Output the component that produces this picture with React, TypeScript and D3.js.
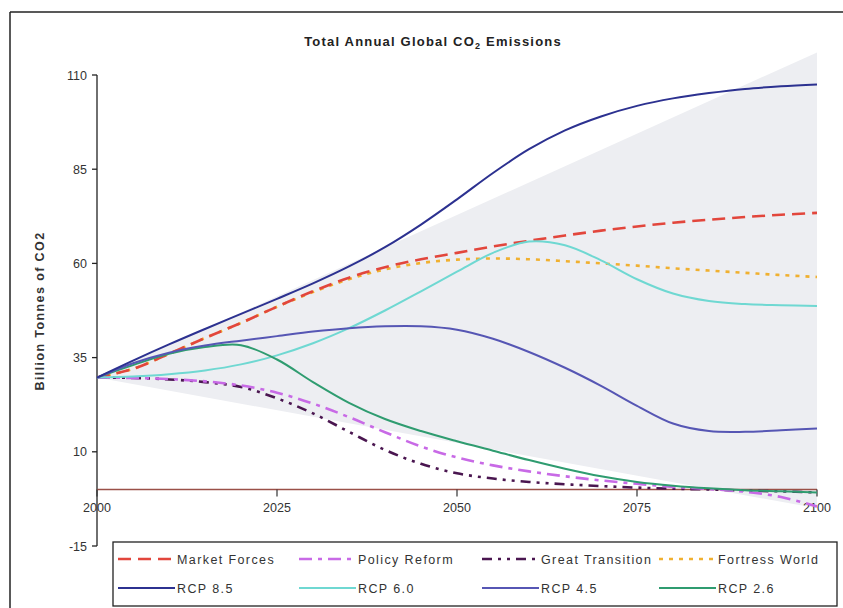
import React from "react";
import * as d3 from "d3";

// Emissions pathways, billion tonnes CO2 per year, at five-year steps
const years = [2000, 2005, 2010, 2015, 2020, 2025, 2030, 2035, 2040, 2045, 2050, 2055, 2060, 2065, 2070, 2075, 2080, 2085, 2090, 2095, 2100];

const marketForces = [29.7, 32, 36, 40.2, 44.2, 48.5, 52.6, 56.2, 59, 61.1, 62.8, 64.5, 66, 67.4, 68.7, 69.8, 70.8, 71.6, 72.3, 72.9, 73.4];
const policyReform = [29.7, 29.6, 29.3, 28.7, 27.6, 25.7, 22.8, 19.2, 15.2, 11.4, 8.5, 6.4, 4.8, 3.5, 2.4, 1.5, 0.7, 0.1, -0.6, -2, -4.5];
const greatTransition = [29.7, 29.6, 29.2, 28.5, 27.2, 24.2, 20.2, 15.3, 10.5, 6.8, 4.3, 2.9, 2.0, 1.4, 0.9, 0.5, 0.2, 0, -0.3, -0.5, -0.8];
const fortressWorld = [29.7, 32, 36, 40.2, 44.2, 48.5, 52.4, 55.8, 58.4, 60.1, 61, 61.3, 61.1, 60.6, 60, 59.4, 58.7, 58.1, 57.5, 56.9, 56.4];
const rcp85 = [29.7, 34.2, 38.5, 42.6, 46.6, 50.6, 54.7, 59.2, 64.3, 70.3, 77, 84, 90.3, 95.3, 99, 101.8, 103.8, 105.2, 106.3, 107, 107.5];
const rcp60 = [29.7, 30, 30.6, 31.6, 33.2, 35.6, 38.8, 42.8, 47.5, 52.6, 57.8, 62.8, 65.8, 64.8, 60.8, 55.8, 52, 50, 49.2, 48.9, 48.7];
const rcp45 = [29.7, 33.5, 36.3, 38.2, 39.5, 40.7, 41.9, 42.8, 43.3, 43.3, 42.4, 40, 36.5, 32.3, 27.5, 22.2, 17.5, 15.5, 15.3, 15.7, 16.2];
const rcp26 = [29.7, 33, 36, 37.8, 38.3, 34.5, 28.5, 23, 18.7, 15.5, 12.8, 10.3, 7.8, 5.5, 3.5, 2, 1, 0.3, -0.2, -0.5, -0.8];

// Envelope of the scenario literature range (start, end upper, end lower)
const rangeYears = [2000, 2100];
const rangeUpper = [29.7, 116];
const rangeLower = [29.7, -5];

const yTicks = [110, 85, 60, 35, 10, -15];
const xTicks = [2000, 2025, 2050, 2075, 2100];

const titleText = "Total Annual Global CO";
const titleSub = "2";
const titleRest = " Emissions";
const yLabel = "Billion Tonnes of CO2";

type Series = { name: string; values: number[]; color: string; dash: string; width: number };

const series: Series[] = [
  { name: "Market Forces", values: marketForces, color: "#e2463c", dash: "13,7", width: 2.6 },
  { name: "Policy Reform", values: policyReform, color: "#c86ae6", dash: "13,6,4,6", width: 2.6 },
  { name: "Great Transition", values: greatTransition, color: "#4a1650", dash: "10,6,3,6,3,6", width: 2.6 },
  { name: "Fortress World", values: fortressWorld, color: "#f0b030", dash: "4,6", width: 2.6 },
  { name: "RCP 8.5", values: rcp85, color: "#2c3190", dash: "", width: 2 },
  { name: "RCP 6.0", values: rcp60, color: "#6fd8d2", dash: "", width: 2 },
  { name: "RCP 4.5", values: rcp45, color: "#5656b4", dash: "", width: 2 },
  { name: "RCP 2.6", values: rcp26, color: "#2f9c70", dash: "", width: 2 },
];

// draw order: dashed scenarios under the RCP pathways
const drawOrder = ["Fortress World", "Market Forces", "Great Transition", "Policy Reform", "RCP 6.0", "RCP 2.6", "RCP 4.5", "RCP 8.5"];

export default function App() {
  const W = 843;
  const H = 608;
  const x = d3.scaleLinear().domain([2000, 2100]).range([97, 817]);
  const y = d3.scaleLinear().domain([-15, 110]).range([546, 75]);

  const line = d3
    .line<[number, number]>()
    .x((d) => x(d[0]))
    .y((d) => y(d[1]))
    .curve(d3.curveCatmullRom.alpha(0.5));

  const area = d3
    .area<number>()
    .x((_, i) => x(rangeYears[i]))
    .y0((_, i) => y(rangeLower[i]))
    .y1((_, i) => y(rangeUpper[i]));

  const font = "'Liberation Sans', Arial, sans-serif";
  const legendCols = [118, 299, 482, 659];
  const legendRows = [559, 588];
  const lineLen = 57;

  return (
    <svg width={W} height={H} style={{ display: "block", position: "absolute", left: 0, top: 0 }} fontFamily={font}>
      <rect x={0} y={0} width={W} height={H} fill="#ffffff" />
      {/* outer frame */}
      <line x1={10} y1={12} x2={W} y2={12} stroke="#222" strokeWidth={1.5} />
      <line x1={10} y1={12} x2={10} y2={H} stroke="#222" strokeWidth={1.5} />

      {/* title */}
      <text x={433} y={46} textAnchor="middle" fontSize={13} fontWeight="bold" fill="#222" letterSpacing={1.2}>
        {titleText}
        <tspan fontSize={9} dy={3}>{titleSub}</tspan>
        <tspan dy={-3}>{titleRest}</tspan>
      </text>

      {/* scenario range */}
      <path d={area([0, 1]) || ""} fill="#edeef2" />

      {/* y axis */}
      <line x1={x(2000)} y1={y(110)} x2={x(2000)} y2={y(-15)} stroke="#222" strokeWidth={1.3} />
      {yTicks.map((t) => (
        <g key={t}>
          <line x1={x(2000) - 5} x2={x(2000)} y1={y(t)} y2={y(t)} stroke="#222" strokeWidth={1.3} />
          <text x={x(2000) - 10} y={y(t) + 4.5} textAnchor="end" fontSize={12.5} fill="#333">
            {t}
          </text>
        </g>
      ))}
      <text
        transform={`translate(44, 311) rotate(-90)`}
        textAnchor="middle"
        fontSize={12.5}
        fontWeight="bold"
        fill="#333"
        letterSpacing={1.4}
      >
        {yLabel}
      </text>

      {/* x axis at zero */}
      <line x1={x(2000)} x2={x(2100)} y1={y(0)} y2={y(0)} stroke="#9a5048" strokeWidth={1.5} />
      {xTicks.map((t) => (
        <g key={t}>
          <line x1={x(t)} x2={x(t)} y1={y(0)} y2={y(0) + 7} stroke="#333" strokeWidth={1.2} />
          <text x={x(t)} y={y(0) + 23} textAnchor="middle" fontSize={12.5} fill="#333">
            {t}
          </text>
        </g>
      ))}

      {/* pathways */}
      {drawOrder.map((n) => {
        const s = series.find((d) => d.name === n)!;
        const pts = years.map((yr, i) => [yr, s.values[i]] as [number, number]);
        return (
          <path
            key={n}
            d={line(pts) || ""}
            fill="none"
            stroke={s.color}
            strokeWidth={s.width}
            strokeDasharray={s.dash || undefined}
            strokeLinecap="butt"
          />
        );
      })}

      {/* legend */}
      <rect x={113} y={542} width={724} height={64} fill="#fff" stroke="#222" strokeWidth={1.3} />
      {series.map((s, i) => {
        const cx = legendCols[i % 4];
        const cy = legendRows[Math.floor(i / 4)];
        return (
          <g key={s.name}>
            <line
              x1={cx}
              x2={cx + lineLen}
              y1={cy}
              y2={cy}
              stroke={s.color}
              strokeWidth={s.width}
              strokeDasharray={s.dash || undefined}
            />
            <text x={cx + lineLen + 2} y={cy + 4.5} fontSize={12.5} fill="#333" letterSpacing={1.4}>
              {s.name}
            </text>
          </g>
        );
      })}
    </svg>
  );
}
